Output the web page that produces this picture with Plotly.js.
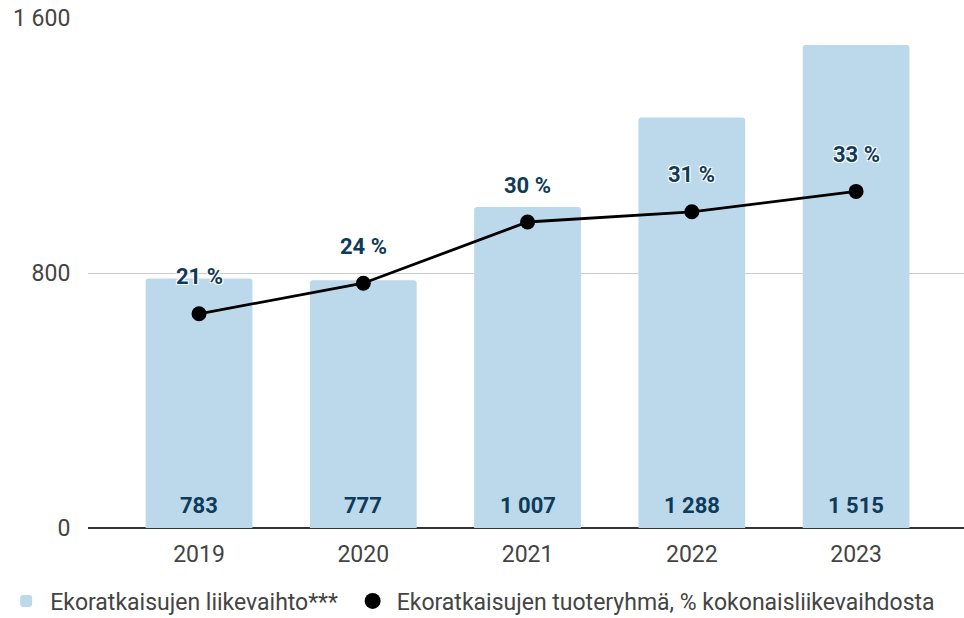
<!DOCTYPE html>
<html>
<head>
<meta charset="utf-8">
<script src="https://cdn.plot.ly/plotly-3.0.1.min.js"></script>
<style>html,body{margin:0;padding:0;background:#fff;}#chart{width:964px;height:618px;}</style>
</head>
<body>
<div id="chart"></div>
<script>
const years = ['2019', '2020', '2021', '2022', '2023'];
const revenue = [783, 777, 1007, 1288, 1515];
const sharePct = [21, 24, 30, 31, 33];
const yTicks = [0, 800, 1600];
const barName = 'Ekoratkaisujen liikevaihto***';
const lineName = 'Ekoratkaisujen tuoteryhmä, % kokonaisliikevaihdosta';

const labelColor = '#0f3b5a';
const whiteOutline = '-1px -1px 0 #fff, 1px -1px 0 #fff, -1px 1px 0 #fff, 1px 1px 0 #fff';
const fmt = v => String(v).replace(/\B(?=(\d{3})+(?!\d))/g, ' ');

const traces = [
  {
    type: 'bar', x: years, y: revenue, name: barName + '\u00a0',
    marker: { color: '#bcd9eb', cornerradius: 3 },
    width: 0.65,
    hoverinfo: 'skip'
  },
  {
    type: 'scatter', mode: 'lines+markers', x: years, y: sharePct, name: lineName,
    yaxis: 'y2', showlegend: false,
    line: { color: '#000', width: 2.8 },
    marker: { color: '#000', size: 15 },
    hoverinfo: 'skip'
  },
  {
    type: 'scatter', mode: 'markers', x: [null], y: [null], name: lineName,
    yaxis: 'y2', showlegend: true,
    marker: { color: '#000', size: 20 },
    hoverinfo: 'skip'
  }
];

const pctLabels = years.map((yr, i) => ({
  x: i, y: sharePct[i], xref: 'x', yref: 'y2',
  text: '<b>' + sharePct[i] + ' %</b>', showarrow: false, yshift: 37,
  font: { family: 'Roboto', size: 22, color: labelColor, shadow: whiteOutline }
}));
const barLabels = years.map((yr, i) => ({
  x: i, y: 0, xref: 'x', yref: 'y',
  text: '<b>' + fmt(revenue[i]) + '</b>', showarrow: false, yshift: 23,
  font: { family: 'Roboto', size: 22, color: labelColor }
}));

const layout = {
  width: 964, height: 618,
  margin: { l: 88, r: 0, t: 18, b: 90, autoexpand: false },
  paper_bgcolor: '#fff', plot_bgcolor: '#fff',
  separators: ', ',
  font: { family: 'Roboto', color: '#444', size: 23 },
  showlegend: true,
  xaxis: {
    type: 'category', range: [-0.676, 4.657],
    showgrid: false, zeroline: false, showline: false,
    ticks: 'outside', ticklen: 5, tickcolor: 'rgba(0,0,0,0)',
    tickfont: { size: 23, color: '#444' }
  },
  yaxis: {
    range: [0, 1600], tickvals: yTicks, tickformat: ',d',
    showgrid: true, gridcolor: '#cccccc', gridwidth: 1,
    zeroline: true, zerolinecolor: '#333', zerolinewidth: 1.5,
    showline: false, ticks: 'outside', ticklen: 12, tickcolor: 'rgba(0,0,0,0)',
    tickfont: { size: 23, color: '#444' }
  },
  yaxis2: { overlaying: 'y', range: [0, 50], visible: false, showgrid: false, zeroline: false },
  legend: {
    orientation: 'h', x: -0.098, xanchor: 'left', y: -0.143, yanchor: 'middle',
    font: { size: 23, color: '#444' }, itemsizing: 'trace', itemwidth: 38, traceorder: 'normal'
  },
  annotations: pctLabels.concat(barLabels),
  hovermode: false
};

Plotly.newPlot('chart', traces, layout, { displayModeBar: false, staticPlot: true });
</script>
</body>
</html>
